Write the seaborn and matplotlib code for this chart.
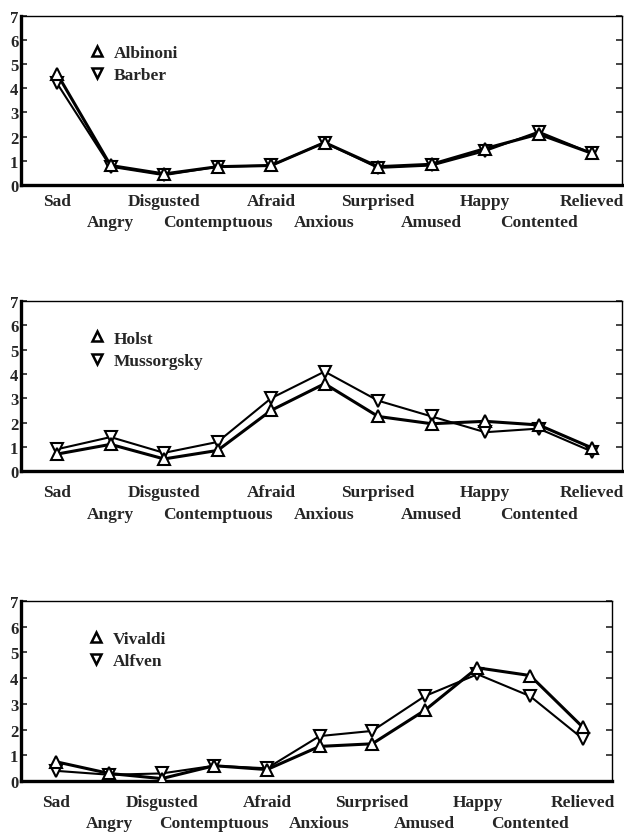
import matplotlib
matplotlib.use("Agg")
import matplotlib.pyplot as plt
import numpy as np
import pandas as pd
import seaborn as sns
from matplotlib.lines import Line2D

emotions = ["Sad", "Angry", "Disgusted", "Contemptuous", "Afraid", "Anxious",
            "Surprised", "Amused", "Happy", "Contented", "Relieved"]

albinoni = [4.6, 0.8, 0.45, 0.75, 0.8, 1.75, 0.75, 0.85, 1.5, 2.1, 1.3]
barber = [4.2, 0.75, 0.4, 0.75, 0.8, 1.75, 0.7, 0.8, 1.4, 2.2, 1.3]

holst = [0.7, 1.1, 0.5, 0.85, 2.5, 3.6, 2.25, 1.95, 2.05, 1.9, 0.95]
mussorgsky = [0.9, 1.4, 0.75, 1.2, 3.0, 4.1, 2.9, 2.25, 1.6, 1.75, 0.8]

vivaldi = [0.75, 0.3, 0.1, 0.6, 0.45, 1.35, 1.45, 2.75, 4.4, 4.1, 2.1]
alfven = [0.4, 0.25, 0.3, 0.6, 0.5, 1.75, 1.95, 3.3, 4.15, 3.3, 1.65]

panels = [
    ("Albinoni", albinoni, "Barber", barber),
    ("Holst", holst, "Mussorgsky", mussorgsky),
    ("Vivaldi", vivaldi, "Alfven", alfven),
]

sns.set_style("white")
plt.rcParams["font.family"] = ["Liberation Serif", "DejaVu Serif"]
plt.rcParams["font.weight"] = "bold"

fig = plt.figure(figsize=(6.24, 8.37), dpi=100)
# axes boxes in figure fraction: left, bottom, width, height
boxes = [
    (0.034, 0.778, 0.963, 0.202),
    (0.034, 0.436, 0.963, 0.203),
    (0.034, 0.0655, 0.947, 0.2155),
]
# pads (pt) for the upper and lower row of category labels
row_pads = [(6, 21), (9.5, 25), (9, 24.5)]

pos = np.arange(len(emotions))

for (name_a, vals_a, name_b, vals_b), box, (pad1, pad2) in zip(panels, boxes, row_pads):
    ax = fig.add_axes(box)
    df = pd.DataFrame({"pos": np.concatenate([pos, pos]),
                       "value": vals_a + vals_b,
                       "series": [name_a] * len(pos) + [name_b] * len(pos)})
    sns.lineplot(data=df[df.series == name_a], x="pos", y="value", ax=ax,
                 color="black", lw=2.2, marker="^", markersize=9,
                 markerfacecolor="white", markeredgecolor="black",
                 markeredgewidth=1.5, zorder=3)
    sns.lineplot(data=df[df.series == name_b], x="pos", y="value", ax=ax,
                 color="black", lw=1.5, marker="v", markersize=9,
                 markerfacecolor="white", markeredgecolor="black",
                 markeredgewidth=1.5, zorder=2)

    ax.set_xlim(-0.67, 10.56)
    ax.set_ylim(0, 7)
    ax.set_yticks(range(8))
    ax.set_yticklabels([str(i) for i in range(8)], fontsize=12, fontweight="bold")

    ax.set_xticks(pos[::2])
    ax.set_xticklabels(emotions[::2], fontsize=12.5, fontweight="bold")
    ax.set_xticks(pos[1::2], minor=True)
    ax.set_xticklabels(emotions[1::2], minor=True, fontsize=12.5, fontweight="bold")
    ax.tick_params(axis="x", which="major", length=0, pad=pad1)
    ax.tick_params(axis="x", which="minor", length=0, pad=pad2)
    ax.tick_params(axis="y", left=True, right=True, direction="in",
                   length=4, width=1.2, pad=2)
    ax.set_xlabel("")
    ax.set_ylabel("")
    for side in ["left", "bottom"]:
        ax.spines[side].set_linewidth(2.4)
    for side in ["top", "right"]:
        ax.spines[side].set_linewidth(1.0)
    for s in ax.spines.values():
        s.set_color("black")

    handles = [
        Line2D([], [], ls="none", marker="^", markersize=7, color="black",
               markerfacecolor="white", markeredgewidth=1.8),
        Line2D([], [], ls="none", marker="v", markersize=7, color="black",
               markerfacecolor="white", markeredgewidth=1.8),
    ]
    ax.legend(handles, [name_a, name_b], loc="upper left",
              bbox_to_anchor=(0.085, 0.92), frameon=False, handlelength=1.0,
              handletextpad=0.5, labelspacing=0.35,
              prop={"weight": "bold", "size": 12.5})

fig.savefig("out.png", dpi=100)
